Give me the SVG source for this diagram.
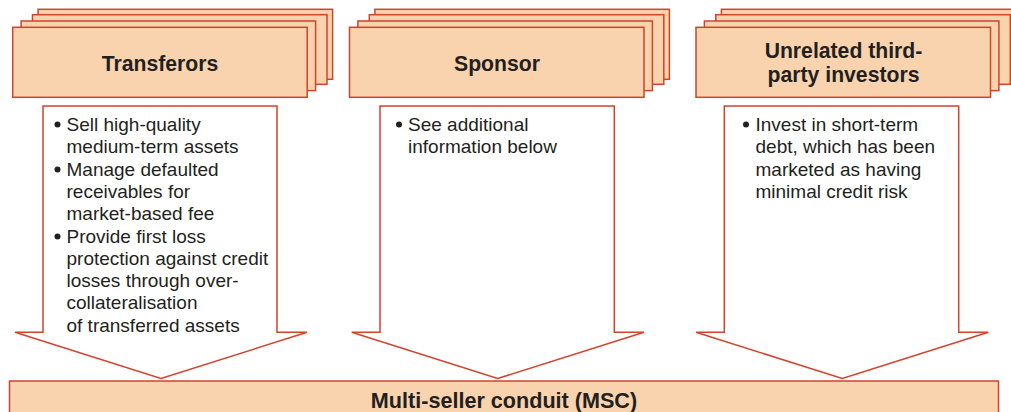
<svg xmlns="http://www.w3.org/2000/svg" width="1011" height="412" viewBox="0 0 1011 412">
<style>
.card{fill:#F9D3AE;stroke:#D2432B;stroke-width:1.5}
.arrow{fill:#FFFFFF;stroke:#D2432B;stroke-width:1.5;stroke-linejoin:miter}
.title{font-family:"Liberation Sans",Arial,sans-serif;font-weight:bold;font-size:21.2px;fill:#231F20;text-anchor:middle}
.body{font-family:"Liberation Sans",Arial,sans-serif;font-size:19px;fill:#231F20}
.dot{fill:#231F20}
</style>
<defs>
<g id="stack">
<rect class="card" x="25.4" y="-18" width="294.5" height="70"/>
<rect class="card" x="19.8" y="-12.6" width="294.5" height="69.6"/>
<rect class="card" x="8.4" y="-6.3" width="294.5" height="69.6"/>
<rect class="card" x="0" y="0" width="294.5" height="70"/>
</g>
</defs>
<g id="connectors">
<polygon class="arrow" points="43,106 277,106 277,332.3 307,332.3 161,378.5 15,332.3 43,332.3"/>
<polygon class="arrow" points="380,106 614.3,106 614.3,332.3 644,332.3 497.7,378.5 351.7,332.3 380,332.3"/>
<polygon class="arrow" points="724.3,106 958.7,106 958.7,332.3 988.3,332.3 842.3,378.5 696,332.3 724.3,332.3"/>
</g>
<g id="transferors">
<use href="#stack" x="12.7" y="27.3"/>
<text class="title" x="160" y="71">Transferors</text>
</g>
<g id="sponsor">
<use href="#stack" x="349.5" y="27.3"/>
<text class="title" x="497" y="71">Sponsor</text>
</g>
<g id="investors">
<use href="#stack" x="696" y="27.3"/>
<text class="title" x="843.5" y="57.5">Unrelated third-</text>
<text class="title" x="843.5" y="82">party investors</text>
</g>
<g id="transferors-notes">
<circle class="dot" cx="57.5" cy="124.5" r="3"/>
<circle class="dot" cx="57.5" cy="169.5" r="3"/>
<circle class="dot" cx="57.5" cy="236.5" r="3"/>
<text class="body" x="66.5" y="131">Sell high-quality</text>
<text class="body" x="66.5" y="153.3">medium-term assets</text>
<text class="body" x="66.5" y="175.6">Manage defaulted</text>
<text class="body" x="66.5" y="197.9">receivables for</text>
<text class="body" x="66.5" y="220.2">market-based fee</text>
<text class="body" x="66.5" y="242.5">Provide first loss</text>
<text class="body" x="66.5" y="264.8">protection against credit</text>
<text class="body" x="66.5" y="287.1">losses through over-</text>
<text class="body" x="66.5" y="309.4">collateralisation</text>
<text class="body" x="66.5" y="331.7">of transferred assets</text>
</g>
<g id="sponsor-notes">
<circle class="dot" cx="399" cy="124.5" r="3"/>
<text class="body" x="408" y="131">See additional</text>
<text class="body" x="408" y="153.3">information below</text>
</g>
<g id="investors-notes">
<circle class="dot" cx="746" cy="124.5" r="3"/>
<text class="body" x="755.5" y="131">Invest in short-term</text>
<text class="body" x="755.5" y="153.3">debt, which has been</text>
<text class="body" x="755.5" y="175.6">marketed as having</text>
<text class="body" x="755.5" y="197.9">minimal credit risk</text>
</g>
<g id="msc">
<rect class="card" x="9.5" y="381" width="989" height="40"/>
<text class="title" x="504" y="408" style="font-size:21.6px">Multi-seller conduit (MSC)</text>
</g>
</svg>
